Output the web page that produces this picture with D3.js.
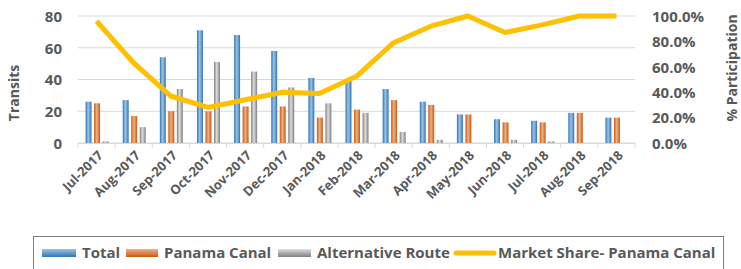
<!DOCTYPE html>
<html>
<head>
<meta charset="utf-8">
<script src="https://cdn.jsdelivr.net/npm/d3@7"></script>
<style>
  body { margin: 0; background: #fff; }
  text { font-family: "Open Sans", sans-serif; font-weight: bold; fill: #595959; }
</style>
</head>
<body>
<svg id="chart" width="741" height="269"></svg>
<script>
const months = ['Jul-2017', 'Aug-2017', 'Sep-2017', 'Oct-2017', 'Nov-2017', 'Dec-2017', 'Jan-2018',
  'Feb-2018', 'Mar-2018', 'Apr-2018', 'May-2018', 'Jun-2018', 'Jul-2018', 'Aug-2018', 'Sep-2018'];
const total = [26, 27, 54, 71, 68, 58, 41, 40, 34, 26, 18, 15, 14, 19, 16];
const panama = [25, 17, 20, 20, 23, 23, 16, 21, 27, 24, 18, 13, 13, 19, 16];
const alternative = [1, 10, 34, 51, 45, 35, 25, 19, 7, 2, 0, 2, 1, 0, 0];
const share = [0.96, 0.63, 0.37, 0.28, 0.34, 0.40, 0.39, 0.525, 0.79, 0.92, 1.0, 0.87, 0.93, 1.0, 1.0];
const leftTicks = [0, 20, 40, 60, 80];
const rightTicks = [0, 0.2, 0.4, 0.6, 0.8, 1.0];

const svg = d3.select('#chart');
const plot = { left: 78, right: 635, top: 16, bottom: 143 };

const x = d3.scaleBand().domain(months).range([plot.left, plot.right]);
const sub = d3.scaleBand().domain(['total', 'panama', 'alternative'])
    .range([x.bandwidth() / 2 - 11, x.bandwidth() / 2 + 12]).paddingInner(0.3);
const y = d3.scaleLinear().domain([0, 80]).range([plot.bottom, plot.top]);
const y2 = d3.scaleLinear().domain([0, 1]).range([plot.bottom, plot.top]);

// gradients for the bevelled bars
const defs = svg.append('defs');
const colors = { total: ['#2e75b6', '#9dc3e6'], panama: ['#c55a11', '#f4b183'], alternative: ['#7f7f7f', '#dedede'] };
Object.keys(colors).forEach(k => {
  const g = defs.append('linearGradient').attr('id', `g-${k}`).attr('x1', 0).attr('x2', 1).attr('y1', 0).attr('y2', 0);
  g.append('stop').attr('offset', '0%').attr('stop-color', colors[k][0]);
  g.append('stop').attr('offset', '45%').attr('stop-color', colors[k][1]);
  g.append('stop').attr('offset', '100%').attr('stop-color', colors[k][0]);
  const h = defs.append('linearGradient').attr('id', `h-${k}`).attr('x1', 0).attr('x2', 0).attr('y1', 0).attr('y2', 1);
  h.append('stop').attr('offset', '0%').attr('stop-color', colors[k][1]);
  h.append('stop').attr('offset', '100%').attr('stop-color', colors[k][0]);
});

// gridlines
svg.append('g')
  .selectAll('line')
  .data(leftTicks)
  .join('line')
    .attr('x1', plot.left).attr('x2', plot.right)
    .attr('y1', d => y(d)).attr('y2', d => y(d))
    .attr('stroke', '#d9d9d9').attr('stroke-width', 1);

// left axis
const yAxis = svg.append('g')
    .attr('transform', `translate(${plot.left - 16},0)`)
    .call(d3.axisLeft(y).tickValues(leftTicks).tickSize(0).tickPadding(0));
yAxis.select('.domain').remove();
yAxis.selectAll('text').style('font-size', '15px').attr('dy', '0.35em');

// right axis
const y2Axis = svg.append('g')
    .attr('transform', `translate(${plot.right + 17},0)`)
    .call(d3.axisRight(y2).tickValues(rightTicks).tickFormat(d3.format('.1%')).tickSize(0).tickPadding(0));
y2Axis.select('.domain').remove();
y2Axis.selectAll('text').style('font-size', '15px').attr('dy', '0.35em');

// x axis
const xAxis = svg.append('g')
    .attr('transform', `translate(0,${plot.bottom})`)
    .call(d3.axisBottom(x).tickSize(0));
xAxis.select('.domain').attr('stroke', '#d9d9d9');
xAxis.selectAll('.tick text')
    .style('font-size', '13px')
    .attr('text-anchor', 'end')
    .attr('dy', '0.35em')
    .attr('transform', 'translate(4,10) rotate(-45)')
    .attr('y', 0).attr('x', 0);
svg.append('g')
  .selectAll('line')
  .data(d3.range(months.length + 1))
  .join('line')
    .attr('x1', d => plot.left + d * x.step()).attr('x2', d => plot.left + d * x.step())
    .attr('y1', plot.bottom).attr('y2', plot.bottom + 5)
    .attr('stroke', '#d9d9d9');

// bars
const series = [
  { key: 'total', values: total },
  { key: 'panama', values: panama },
  { key: 'alternative', values: alternative }
];
series.forEach(s => {
  svg.append('g')
    .selectAll('rect')
    .data(s.values)
    .join('rect')
      .attr('x', (d, i) => x(months[i]) + sub(s.key))
      .attr('width', sub.bandwidth())
      .attr('y', d => y(d))
      .attr('height', d => y(0) - y(d))
      .attr('fill', `url(#g-${s.key})`);
});

// market share line
const line = d3.line()
    .x((d, i) => x(months[i]) + x.bandwidth() / 2)
    .y(d => y2(d));
svg.append('path')
    .datum(share)
    .attr('d', line)
    .attr('fill', 'none')
    .attr('stroke', '#ffc000')
    .attr('stroke-width', 5)
    .attr('stroke-linejoin', 'round');

// axis titles
svg.append('text')
    .attr('transform', 'translate(19,93) rotate(-90)')
    .attr('text-anchor', 'middle')
    .style('font-size', '14px')
    .text('Transits');
svg.append('text')
    .attr('transform', 'translate(737,68) rotate(-90)')
    .attr('text-anchor', 'middle')
    .style('font-size', '14px')
    .text('% Participation');

// legend
const legend = svg.append('g');
legend.append('rect')
    .attr('x', 33.5).attr('y', 236.5).attr('width', 690).attr('height', 40)
    .attr('fill', 'none').attr('stroke', '#7f7f7f');
const items = [
  { key: 'total', label: 'Total', sx: 42, tx: 82 },
  { key: 'panama', label: 'Panama Canal', sx: 126, tx: 164 },
  { key: 'alternative', label: 'Alternative Route', sx: 278, tx: 317 },
  { key: 'line', label: 'Market Share- Panama Canal', sx: 456, tx: 498 }
];
items.forEach(it => {
  if (it.key === 'line') {
    legend.append('line')
        .attr('x1', it.sx).attr('x2', it.sx + 38)
        .attr('y1', 253).attr('y2', 253)
        .attr('stroke', '#ffc000').attr('stroke-width', 5).attr('stroke-linecap', 'round');
  } else {
    legend.append('rect')
        .attr('x', it.sx).attr('y', 249).attr('width', it.tx - it.sx - 6).attr('height', 8)
        .attr('fill', `url(#h-${it.key})`);
  }
  legend.append('text')
      .attr('x', it.tx).attr('y', 253).attr('dy', '0.35em')
      .style('font-size', '15px')
      .text(it.label);
});
</script>
</body>
</html>
